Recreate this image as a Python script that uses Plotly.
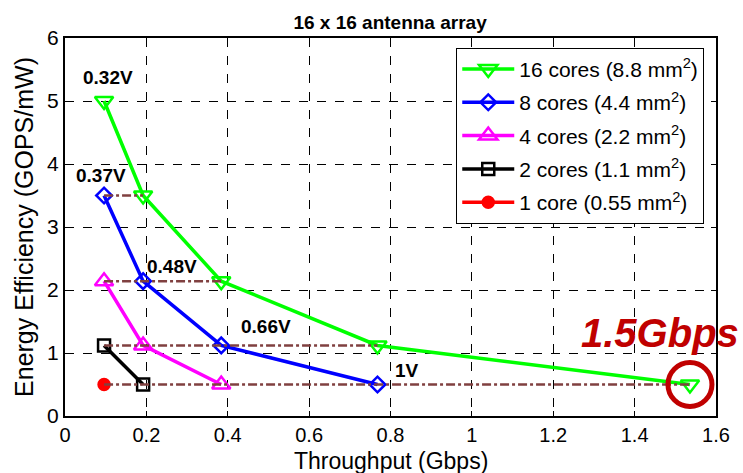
import plotly.graph_objects as go

throughput = [0.096, 0.192, 0.384, 0.768, 1.536]
eff_16 = [5.0, 3.5, 2.14, 1.12, 0.5]
eff_8 = [3.5, 2.14, 1.12, 0.5]
eff_4 = [2.14, 1.12, 0.5]
eff_2 = [1.12, 0.5]
eff_1 = [0.5]

names = ["16 cores (8.8 mm<sup>2</sup>)", "8 cores (4.4 mm<sup>2</sup>)",
         "4 cores (2.2 mm<sup>2</sup>)", "2 cores (1.1 mm<sup>2</sup>)",
         "1 core (0.55 mm<sup>2</sup>)"]
series = [eff_16, eff_8, eff_4, eff_2, eff_1]
colors = ["#00FF00", "#0000FF", "#FF00FF", "#000000", "#FF0000"]
symbols = ["triangle-down-open", "diamond-open", "triangle-up-open", "square-open", "circle"]
sizes = [16, 12, 16, 12, 11]

# iso-voltage reference lines (y level, x end)
iso_y = [3.5, 2.14, 1.12, 0.5]
iso_xend = [0.192, 0.384, 0.768, 1.536]

voltage_labels = ["0.32V", "0.37V", "0.48V", "0.66V", "1V"]
voltage_x = [0.106, 0.088, 0.263, 0.494, 0.84]
voltage_y = [5.37, 3.81, 2.38, 1.42, 0.73]

FONT = "Arial, Liberation Sans, sans-serif"

fig = go.Figure()
for i, (name, ys, c, s, sz) in enumerate(zip(names, series, colors, symbols, sizes)):
    fig.add_trace(go.Scatter(
        x=throughput[:len(ys)], y=ys, name=name, mode="lines+markers",
        legendgroup=f"g{i}",
        line=dict(color=c, width=3.5),
        marker=dict(symbol=s, size=sz, color=c, line=dict(color=c, width=2.5)),
    ))

for yv, xe in zip(iso_y, iso_xend):
    fig.add_trace(go.Scatter(
        x=[throughput[0], xe], y=[yv, yv], mode="lines", showlegend=False,
        line=dict(color="#804040", width=2.5, dash="dashdot"), hoverinfo="skip",
    ))

# highlight circle at max throughput
fig.add_trace(go.Scatter(
    x=[throughput[-1]], y=[eff_16[-1]], mode="markers", showlegend=False,
    marker=dict(symbol="circle-open", size=44, color="#C00000", line=dict(color="#C00000", width=5)),
    hoverinfo="skip",
))

for t, xv, yv in zip(voltage_labels, voltage_x, voltage_y):
    fig.add_annotation(x=xv, y=yv, text=f"<b>{t}</b>", showarrow=False,
                       font=dict(family=FONT, size=19, color="black"))

fig.add_annotation(x=1.462, y=1.31, text="<b><i>1.5Gbps</i></b>", showarrow=False,
                   font=dict(family=FONT, size=40, color="#C00000"))

# x-axis title as paper annotation (placed just under the tick labels)
fig.add_annotation(x=0.5, y=-0.119, xref="paper", yref="paper", xanchor="center",
                   yanchor="middle", text="Throughput (Gbps)", showarrow=False,
                   font=dict(family=FONT, size=23, color="black"))

fig.update_layout(
    width=743, height=473,
    margin=dict(l=65, r=27, t=38, b=57),
    paper_bgcolor="white", plot_bgcolor="white",
    font=dict(family=FONT, color="black"),
    title=dict(text="<b>16 x 16 antenna array</b>", x=0.525, xanchor="center",
               y=0.953, yanchor="middle", font=dict(size=19, color="black")),
    legend=dict(x=0.601, y=0.974, xanchor="left", yanchor="top",
                bordercolor="black", borderwidth=1, bgcolor="white",
                font=dict(size=21, color="black"), itemwidth=52,
                tracegroupgap=3),
    showlegend=True,
)
fig.update_xaxes(range=[0, 1.6], dtick=0.2, showline=True, mirror="ticks", linecolor="black",
                 linewidth=2, ticks="inside", ticklen=5, tickcolor="black",
                 showgrid=True, gridcolor="black", griddash="dash", gridwidth=1,
                 zeroline=False, tickfont=dict(size=20), automargin=False)
fig.update_yaxes(range=[0, 6], dtick=1, showline=True, mirror="ticks", linecolor="black",
                 linewidth=2, ticks="inside", ticklen=5, tickcolor="black",
                 showgrid=True, gridcolor="black", griddash="dash", gridwidth=1,
                 zeroline=False, tickfont=dict(size=21), automargin=False,
                 title=dict(text="Energy Efficiency (GOPS/mW)", font=dict(size=25), standoff=6))

fig.write_html("out.html")
